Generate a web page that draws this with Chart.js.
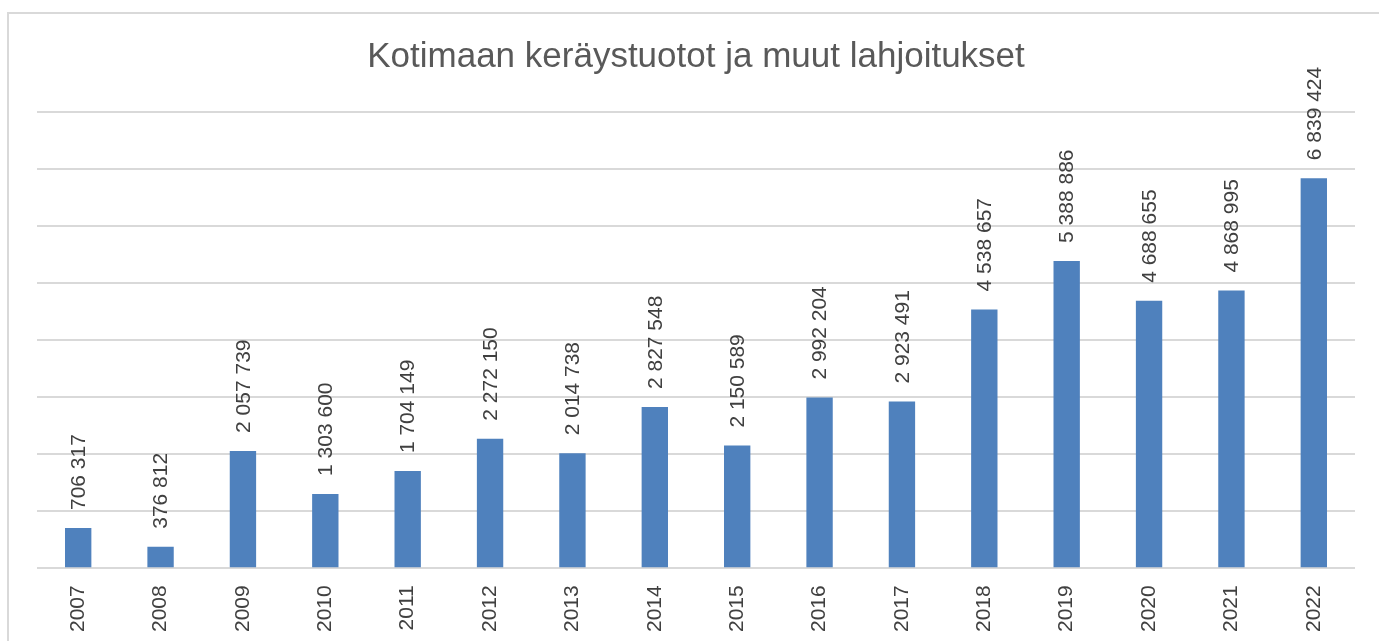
<!DOCTYPE html>
<html lang="fi">
<head>
    <meta charset="UTF-8">
    <title>Kotimaan keräystuotot ja muut lahjoitukset</title>
    <script src="https://cdn.jsdelivr.net/npm/chart.js"></script>
    <style>
        body {
            margin: 0;
            background: #ffffff;
            overflow: hidden;
        }
        .frame {
            position: absolute;
            left: 7px;
            top: 12px;
            width: 1500px;
            height: 800px;
            border: 2px solid #d9d9d9;
            pointer-events: none;
        }
        .chart-container {
            position: absolute;
            left: 0;
            top: 0;
            width: 1379px;
            height: 641px;
        }
    </style>
</head>
<body>
    <div class="chart-container">
        <canvas id="giftChart"></canvas>
    </div>
    <div class="frame"></div>

    <script>
        const years = ["2007", "2008", "2009", "2010", "2011", "2012", "2013", "2014",
                       "2015", "2016", "2017", "2018", "2019", "2020", "2021", "2022"];
        const donations = [706317, 376812, 2057739, 1303600, 1704149, 2272150, 2014738, 2827548,
                           2150589, 2992204, 2923491, 4538657, 5388886, 4688655, 4868995, 6839424];

        // luvut muotoon "6 839 424"
        const fmt = v => String(v).replace(/\B(?=(\d{3})+(?!\d))/g, " ");

        // pystysuorat arvotekstit pylväiden yläpuolelle
        const barLabels = {
            id: "barLabels",
            afterDatasetsDraw(chart) {
                const ctx = chart.ctx;
                const meta = chart.getDatasetMeta(0);
                ctx.save();
                ctx.fillStyle = "#404040";
                ctx.font = "21px 'Liberation Sans', Arial, sans-serif";
                ctx.textAlign = "left";
                ctx.textBaseline = "middle";
                meta.data.forEach((bar, i) => {
                    ctx.save();
                    ctx.translate(bar.x, bar.y - 18);
                    ctx.rotate(-Math.PI / 2);
                    ctx.fillText(fmt(donations[i]), 0, 1);
                    ctx.restore();
                });
                ctx.restore();
            }
        };

        const ctx = document.getElementById("giftChart").getContext("2d");
        new Chart(ctx, {
            type: "bar",
            data: {
                labels: years,
                datasets: [{
                    data: donations,
                    backgroundColor: "#4f81bd",
                    borderWidth: 0,
                    barPercentage: 0.32,
                    categoryPercentage: 1
                }]
            },
            options: {
                responsive: true,
                maintainAspectRatio: false,
                animation: false,
                layout: {
                    padding: { left: 37, right: 24, top: 0, bottom: 0 }
                },
                plugins: {
                    legend: { display: false },
                    tooltip: { enabled: false },
                    title: {
                        display: true,
                        text: "Kotimaan keräystuotot ja muut lahjoitukset",
                        color: "#595959",
                        font: { family: "'Liberation Sans', Arial, sans-serif", size: 35, weight: "normal" },
                        padding: { top: 36, bottom: 34 }
                    }
                },
                scales: {
                    x: {
                        grid: { display: false },
                        border: { display: false },
                        ticks: {
                            color: "#404040",
                            font: { family: "'Liberation Sans', Arial, sans-serif", size: 21 },
                            minRotation: 90,
                            maxRotation: 90,
                            padding: 9
                        }
                    },
                    y: {
                        min: 0,
                        max: 8000000,
                        ticks: { display: false, stepSize: 1000000 },
                        grid: { color: "#d9d9d9", lineWidth: 2, drawTicks: false },
                        border: { display: false }
                    }
                }
            },
            plugins: [barLabels]
        });
    </script>
</body>
</html>
